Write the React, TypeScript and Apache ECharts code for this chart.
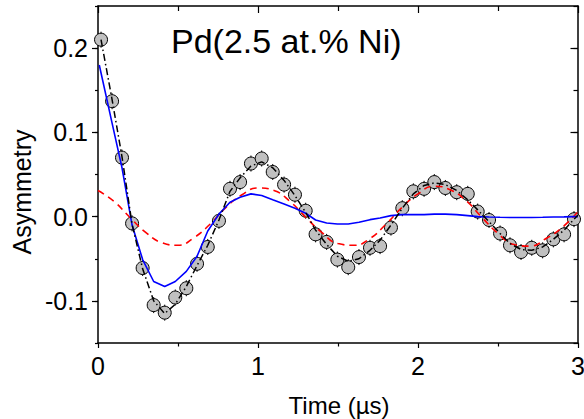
import { useEffect, useRef } from 'react';
import * as echarts from 'echarts';

// Measured data points (time in µs, asymmetry)
const dataT = [0.019, 0.088, 0.150, 0.213, 0.279, 0.348, 0.417, 0.483, 0.552, 0.619, 0.686, 0.756, 0.825, 0.888, 0.956, 1.023, 1.092, 1.163, 1.231, 1.298, 1.360, 1.429, 1.496, 1.564, 1.631, 1.700, 1.763, 1.831, 1.902, 1.971, 2.038, 2.102, 2.171, 2.242, 2.311, 2.373, 2.444, 2.513, 2.575, 2.644, 2.711, 2.779, 2.846, 2.913, 2.975];
const dataA = [0.210, 0.137, 0.070, -0.008, -0.061, -0.105, -0.114, -0.096, -0.085, -0.056, -0.036, -0.005, 0.033, 0.041, 0.063, 0.069, 0.053, 0.038, 0.026, 0.007, -0.021, -0.030, -0.051, -0.060, -0.048, -0.037, -0.035, -0.013, 0.010, 0.030, 0.033, 0.041, 0.034, 0.029, 0.027, 0.006, -0.004, -0.020, -0.034, -0.042, -0.037, -0.040, -0.027, -0.021, -0.003];
const dataErr = [0.0095, 0.0095, 0.0095, 0.0095, 0.0095, 0.0095, 0.0095, 0.0095, 0.0095, 0.0095, 0.0095, 0.0095, 0.0095, 0.0095, 0.0095, 0.0095, 0.0095, 0.0095, 0.0095, 0.0095, 0.0095, 0.0095, 0.0095, 0.0095, 0.0095, 0.0095, 0.0095, 0.0095, 0.0095, 0.0095, 0.0095, 0.0095, 0.0095, 0.0095, 0.0095, 0.0095, 0.0095, 0.0095, 0.0095, 0.0095, 0.0095, 0.0095, 0.0095, 0.0095, 0.0095];

// Total fit (black dash-dot)
const blackT = [0.019, 0.088, 0.150, 0.213, 0.279, 0.348, 0.417, 0.483, 0.552, 0.619, 0.686, 0.756, 0.825, 0.888, 0.956, 1.023, 1.092, 1.163, 1.231, 1.298, 1.360, 1.429, 1.496, 1.564, 1.631, 1.700, 1.763, 1.831, 1.902, 1.971, 2.038, 2.102, 2.171, 2.242, 2.311, 2.373, 2.444, 2.513, 2.575, 2.644, 2.711, 2.779, 2.846, 2.913, 2.975, 3.0];
const blackA = [0.210, 0.139, 0.071, -0.009, -0.062, -0.100, -0.115, -0.104, -0.083, -0.058, -0.034, -0.004, 0.030, 0.046, 0.060, 0.065, 0.058, 0.043, 0.025, 0.005, -0.016, -0.033, -0.047, -0.053, -0.050, -0.040, -0.028, -0.010, 0.010, 0.027, 0.037, 0.040, 0.038, 0.031, 0.020, 0.008, -0.006, -0.020, -0.032, -0.039, -0.040, -0.036, -0.027, -0.016, -0.003, 0.002];

// Fast-damped component (blue solid)
const blueT = [0.008, 0.088, 0.150, 0.213, 0.279, 0.348, 0.417, 0.483, 0.552, 0.619, 0.686, 0.756, 0.825, 0.888, 0.956, 1.023, 1.092, 1.163, 1.231, 1.298, 1.360, 1.429, 1.496, 1.564, 1.631, 1.700, 1.763, 1.831, 1.902, 1.971, 2.038, 2.102, 2.171, 2.242, 2.311, 2.373, 2.444, 2.513, 2.575, 2.644, 2.711, 2.779, 2.846, 2.913, 2.975, 3.0];
const blueA = [0.180, 0.111, 0.058, -0.010, -0.051, -0.077, -0.083, -0.077, -0.065, -0.047, -0.017, 0.003, 0.017, 0.023, 0.027, 0.025, 0.020, 0.015, 0.010, 0.004, -0.004, -0.0075, -0.0087, -0.0087, -0.0067, -0.0036, -0.0016, 0.0012, 0.0024, 0.0024, 0.0024, 0.003, 0.003, 0.0024, 0.0012, 0, -0.0005, -0.0008, -0.001, -0.001, -0.001, -0.0008, -0.0005, -0.0003, 0, 0];

// Slow oscillating component (red dashed)
const redT = [0, 0.1, 0.2, 0.3, 0.4, 0.5, 0.6, 0.7, 0.8, 0.9, 1.0, 1.1, 1.2, 1.3, 1.4, 1.5, 1.6, 1.7, 1.8, 1.9, 2.0, 2.1, 2.2, 2.3, 2.4, 2.5, 2.6, 2.7, 2.8, 2.9, 3.0];
const redA = [0.031, 0.018, -0.001, -0.019, -0.031, -0.034, -0.025, -0.009, 0.011, 0.026, 0.034, 0.031, 0.018, -0.001, -0.019, -0.032, -0.034, -0.026, -0.009, 0.011, 0.027, 0.036, 0.032, 0.019, -0.001, -0.020, -0.033, -0.035, -0.026, -0.013, 0.006];

const yMajorTicks = [-0.1, 0, 0.1, 0.2];

const FONT = '"Liberation Sans", Arial, Helvetica, sans-serif';

export default function App() {
  const ref = useRef<HTMLDivElement>(null);

  useEffect(() => {
    if (!ref.current) return;
    const chart = echarts.init(ref.current, null, { renderer: 'svg' });
    const lineStyle = { color: '#000', width: 1.5 };
    const tickStyle = { color: '#000', width: 1.2 };

    const pts = dataT.map((t, i) => [t, dataA[i]]);
    const errs = dataT.map((t, i) => [t, dataA[i], dataErr[i]]);

    chart.setOption({
      animation: false,
      backgroundColor: '#fff',
      grid: { left: 98, right: 6, top: 6, bottom: 76, containLabel: false, outerBoundsMode: 'none' },
      xAxis: [
        {
          type: 'value', min: 0, max: 3, interval: 1, position: 'bottom',
          axisLine: { show: true, onZero: false, lineStyle },
          axisTick: { show: true, inside: false, length: 5, lineStyle: tickStyle },
          minorTick: { show: true, splitNumber: 2, length: 3.5, lineStyle: tickStyle },
          axisLabel: { color: '#000', fontSize: 25, fontFamily: FONT, margin: 10 },
          splitLine: { show: false }, minorSplitLine: { show: false },
        },
        {
          type: 'value', min: 0, max: 3, interval: 1, position: 'top',
          axisLine: { show: true, onZero: false, lineStyle },
          axisTick: { show: true, inside: true, length: 7, lineStyle: tickStyle },
          minorTick: { show: true, splitNumber: 2, length: 5, lineStyle: tickStyle },
          axisLabel: { show: false },
          splitLine: { show: false }, minorSplitLine: { show: false },
        },
      ],
      yAxis: [
        {
          type: 'value', min: -0.15, max: 0.25, interval: 0.05, position: 'left',
          axisLine: { show: true, onZero: false, lineStyle },
          axisTick: { show: true, inside: false, length: 3, lineStyle: tickStyle },
          axisLabel: {
            color: '#000', fontSize: 25, fontFamily: FONT, margin: 10,
            formatter: (v: number) => {
              const r = Math.round(v * 100);
              if (r % 10 !== 0) return '';
              return (r / 100).toFixed(1);
            },
          },
          splitLine: { show: false },
        },
        {
          type: 'value', min: -0.15, max: 0.25, position: 'left',
          axisLine: { show: false, onZero: false },
          axisTick: { show: true, inside: false, length: 6, lineStyle: tickStyle, customValues: yMajorTicks },
          axisLabel: { show: false },
          splitLine: { show: false },
        },
        {
          type: 'value', min: -0.15, max: 0.25, interval: 0.05, position: 'right',
          axisLine: { show: true, onZero: false, lineStyle },
          axisTick: { show: true, inside: true, length: 4.5, lineStyle: tickStyle },
          axisLabel: { show: false },
          splitLine: { show: false },
        },
        {
          type: 'value', min: -0.15, max: 0.25, position: 'right',
          axisLine: { show: false, onZero: false },
          axisTick: { show: true, inside: true, length: 7.5, lineStyle: tickStyle, customValues: yMajorTicks },
          axisLabel: { show: false },
          splitLine: { show: false },
        },
      ],
      graphic: [
        {
          type: 'text', x: 171, y: 41, z: 100,
          style: { text: 'Pd(2.5 at.% Ni)', fontSize: 34, fontFamily: FONT, fill: '#000', textAlign: 'left', textVerticalAlign: 'middle', verticalAlign: 'middle' },
        },
        {
          type: 'text', x: 339, y: 405, z: 100,
          style: { text: 'Time (µs)', fontSize: 24, fontFamily: FONT, fill: '#000', textAlign: 'center', textVerticalAlign: 'middle', verticalAlign: 'middle' },
        },
        {
          type: 'text', x: 22, y: 192, rotation: Math.PI / 2, z: 100,
          style: { text: 'Asymmetry', fontSize: 25, fontFamily: FONT, fill: '#000', textAlign: 'center', textVerticalAlign: 'middle', verticalAlign: 'middle' },
        },
      ],
      series: [
        {
          type: 'custom', name: 'err', xAxisIndex: 0, yAxisIndex: 0, z: 1,
          data: errs,
          renderItem: (params: any, api: any) => {
            const t = api.value(0), a = api.value(1), e = api.value(2);
            const p1 = api.coord([t, a - e]);
            const p2 = api.coord([t, a + e]);
            return {
              type: 'line',
              shape: { x1: p1[0], y1: p1[1], x2: p2[0], y2: p2[1] },
              style: { stroke: '#000', lineWidth: 1 },
            };
          },
        },
        {
          type: 'scatter', name: 'data', xAxisIndex: 0, yAxisIndex: 0, z: 2,
          data: pts, symbol: 'circle', symbolSize: 13,
          itemStyle: { color: '#c0c0c0', borderColor: '#000', borderWidth: 1, opacity: 1 },
        },
        {
          type: 'line', name: 'slow', xAxisIndex: 0, yAxisIndex: 0, z: 3,
          data: redT.map((t, i) => [t, redA[i]]), showSymbol: false, symbol: 'none', smooth: true,
          lineStyle: { color: '#ff0000', width: 1.6, type: [7, 5] },
        },
        {
          type: 'line', name: 'fast', xAxisIndex: 0, yAxisIndex: 0, z: 4,
          data: blueT.map((t, i) => [t, blueA[i]]), showSymbol: false, symbol: 'none',
          lineStyle: { color: '#0000ff', width: 1.6, type: 'solid' },
        },
        {
          type: 'line', name: 'fit', xAxisIndex: 0, yAxisIndex: 0, z: 5,
          data: blackT.map((t, i) => [t, blackA[i]]), showSymbol: false, symbol: 'none',
          lineStyle: { color: '#000', width: 1.5, type: [7, 3, 1.5, 3] },
        },
      ],
    });
    return () => chart.dispose();
  }, []);

  return (
    <div
      ref={ref}
      style={{ position: 'fixed', left: 0, top: 0, width: 584, height: 419, background: '#fff' }}
    />
  );
}
